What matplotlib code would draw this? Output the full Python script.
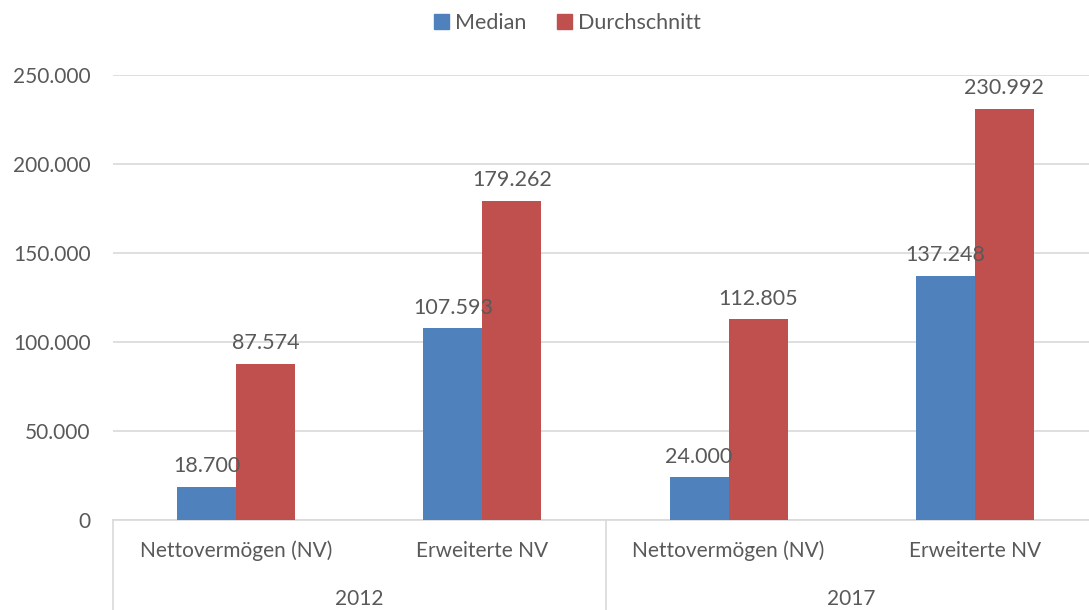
import matplotlib.pyplot as plt
from matplotlib.patches import Patch
from matplotlib.ticker import FuncFormatter

years = ["2012", "2017"]
categories = ["Nettovermögen (NV)", "Erweiterte NV"]
median = [18700, 107593, 24000, 137248]
mean = [87574, 179262, 112805, 230992]
yticks = [0, 50000, 100000, 150000, 200000, 250000]

BLUE = "#4F81BD"
RED = "#C0504D"
TEXT = "#595959"
GRID = "#D9D9D9"

plt.rcParams["font.family"] = ["Lato", "DejaVu Sans"]


def de_fmt(v, _pos=None):
    return f"{int(round(v)):,}".replace(",", ".")


fig = plt.figure(figsize=(10.89, 6.10), dpi=100)
ax = fig.add_axes([113 / 1089, 90 / 610, 985 / 1089, 445 / 610])

n = len(median)
centers = [i + 0.5 for i in range(n)]
w = 0.24
ax.bar([c - w / 2 for c in centers], median, width=w, color=BLUE, zorder=3)
ax.bar([c + w / 2 for c in centers], mean, width=w, color=RED, zorder=3)

for c, v in zip(centers, median):
    ax.text(c - w / 2, v + 6000, de_fmt(v), ha="center", va="bottom",
            fontsize=15.5, color=TEXT)
for c, v in zip(centers, mean):
    ax.text(c + w / 2, v + 6000, de_fmt(v), ha="center", va="bottom",
            fontsize=15.5, color=TEXT)

ax.set_xlim(0, n)
ax.set_ylim(0, 250000)
ax.set_yticks(yticks)
ax.yaxis.set_major_formatter(FuncFormatter(de_fmt))
ax.tick_params(axis="y", length=0, pad=16, labelsize=15, labelcolor=TEXT)
ax.set_xticks([])
ax.grid(axis="y", color=GRID, linewidth=1.2, zorder=0)
for s in ["top", "right", "left"]:
    ax.spines[s].set_visible(False)
ax.spines["bottom"].set_color(GRID)
ax.spines["bottom"].set_linewidth(1.2)

# multi-level category axis
trans = ax.get_xaxis_transform()
for i, c in enumerate(centers):
    ax.text(c, -31 / 445, categories[i % len(categories)], transform=trans,
            ha="center", va="center", fontsize=15, color=TEXT)
per = len(categories)
for g, y in enumerate(years):
    ax.text(g * per + per / 2, -79 / 445, y, transform=trans,
            ha="center", va="center", fontsize=15, color=TEXT)
for x in range(0, n + 1, per):
    ax.plot([x, x], [0, -90 / 445], transform=trans, color=GRID,
            linewidth=1.2, clip_on=False)

handles = [Patch(color=BLUE, label="Median"), Patch(color=RED, label="Durchschnitt")]
fig.legend(handles=handles, loc="center", bbox_to_anchor=(0.521, 0.963), ncol=2,
           frameon=False, fontsize=15.5, labelcolor=TEXT, handlelength=0.7,
           handleheight=0.7, handletextpad=0.3, columnspacing=1.4)

fig.savefig("out.png", dpi=100)
